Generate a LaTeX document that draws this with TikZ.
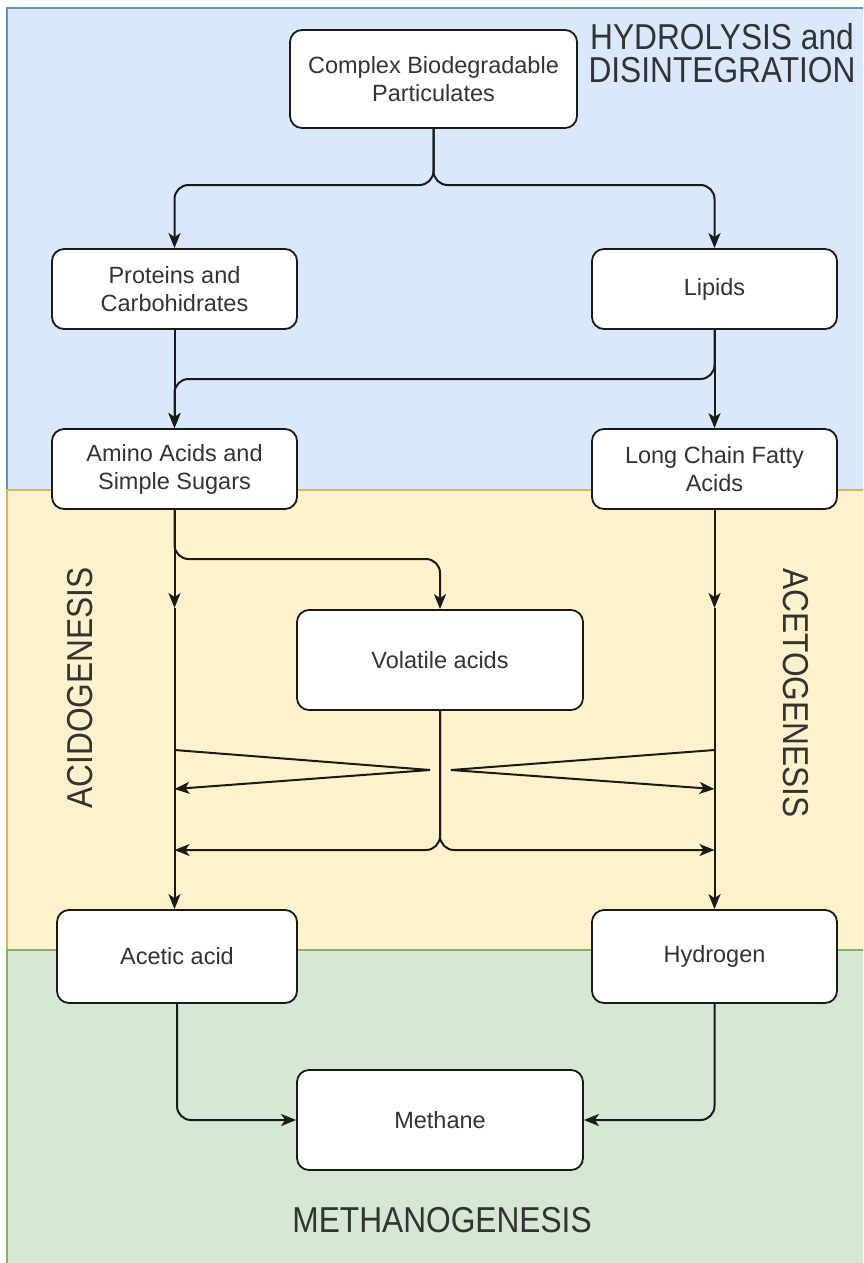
\documentclass[tikz,border=0pt]{standalone}
\usepackage{fontspec}
\setmainfont{Liberation Sans}
\newfontfamily\phasefont[FakeStretch=0.88]{Liberation Sans}
\usetikzlibrary{arrows.meta}
\definecolor{hydfill}{HTML}{DAE8FC}
\definecolor{hydline}{HTML}{6C8EBF}
\definecolor{acifill}{HTML}{FFF2CC}
\definecolor{aciline}{HTML}{D6B656}
\definecolor{metfill}{HTML}{D5E8D4}
\definecolor{metline}{HTML}{82B366}
\definecolor{ink}{HTML}{1A1A1A}
\definecolor{txt}{HTML}{333333}
\begin{document}
\begin{tikzpicture}[x=1pt,y=-1pt,
  box/.style={draw=ink, line width=1.8pt, fill=white, rounded corners=12pt,
    align=center, inner sep=0pt, text=txt, font=\fontsize{23.5}{28}\selectfont},
  wide/.style={minimum width=245pt, minimum height=80pt},
  big/.style={minimum width=286pt, minimum height=100pt},
  flow/.style={draw=ink, line width=2pt, rounded corners=14pt},
  tip/.style={-{Stealth[length=15pt,width=12pt,inset=4pt]}},
  phase/.style={text=txt, inner sep=0pt, align=center,
    font=\phasefont\fontsize{36}{33}\selectfont},
]
\useasboundingbox (0,0) rectangle (863,1263);
\clip (0,0) rectangle (863,1263);

% stage bands
\fill[hydfill] (7,8) rectangle (880,490);
\draw[hydline, line width=1.2pt] (880,8) -- (7,8) -- (7,490);
\fill[acifill] (7,490) rectangle (880,950);
\draw[aciline, line width=1.2pt] (880,490) -- (7,490) -- (7,950);
\fill[metfill] (7,950) rectangle (880,1280);
\draw[metline, line width=1.2pt] (880,950) -- (7,950) -- (7,1280);

% stage labels
\node[phase] (hyd) at (722,53.5) {HYDROLYSIS and\\DISINTEGRATION};
\node[phase, rotate=90] (aci) at (80,688) {ACIDOGENESIS};
\node[phase, rotate=-90] (ace) at (796,693) {ACETOGENESIS};
\node[phase] (met) at (442,1220.5) {METHANOGENESIS};

% substances
\node[box, minimum width=287pt, minimum height=98pt] (cbp) at (433.5,79) {Complex Biodegradable\\Particulates};
\node[box, wide] (pc) at (174.5,289) {Proteins and\\Carbohidrates};
\node[box, wide] (li) at (714.5,289) {Lipids};
\node[box, wide] (aa) at (174.5,469) {Amino Acids and\\Simple Sugars};
\node[box, wide] (lc) at (714.5,469) {Long Chain Fatty\\Acids};
\node[box, big] (va) at (440,660) {Volatile acids};
\node[box, minimum width=240pt, minimum height=93pt] (ac) at (177,956.5) {Acetic acid};
\node[box, minimum width=245pt, minimum height=93pt] (hy) at (714.5,956.5) {Hydrogen};
\node[box, big] (me) at (440,1120) {Methane};

% hydrolysis
\coordinate (s1) at (433.5,185);
\draw[flow,tip] (cbp.south) -- (s1) -- (s1 -| pc.north) -- (pc.north);
\draw[flow,tip] (cbp.south) -- (s1) -- (s1 -| li.north) -- (li.north);
\draw[flow,tip] (pc.south) -- (aa.north);
\draw[flow,tip] (li.south) -- (lc.north);
\coordinate (s2) at (714.5,379);
\draw[flow,tip] (li.south) -- (s2) -- (s2 -| aa.north) -- (aa.north);

% acidogenesis / acetogenesis
\coordinate (s3) at (174.5,559);
\draw[flow,tip] (aa.south) -- (s3) -- (s3 -| va.north) -- (va.north);
\coordinate (la) at (174.5,608);
\coordinate (ra) at (714.5,608);
\draw[flow,tip] (aa.south) -- (la);
\draw[flow,tip] (la) -- (la |- ac.north);
\draw[flow,tip] (lc.south) -- (ra);
\draw[flow,tip] (ra) -- (hy.north);

\coordinate (lv1) at (174.5,750);
\coordinate (lv2) at (430,770);
\coordinate (lv3) at (174.5,789);
\coordinate (rv1) at (714.5,750);
\coordinate (rv2) at (451,770);
\coordinate (rv3) at (714.5,789);
\draw[flow,tip,rounded corners=0pt] (lv1) -- (lv2) -- (lv3);
\draw[flow,tip,rounded corners=0pt] (rv1) -- (rv2) -- (rv3);

\coordinate (s4) at (440,850);
\coordinate (lh) at (174.5,850);
\coordinate (rh) at (714.5,850);
\draw[flow,tip] (va.south) -- (s4) -- (lh);
\draw[flow,tip] (va.south) -- (s4) -- (rh);

% methanogenesis
\draw[flow,tip] (ac.south) -- (ac.south |- me.west) -- (me.west);
\draw[flow,tip] (hy.south) -- (hy.south |- me.east) -- (me.east);
\end{tikzpicture}
\end{document}
